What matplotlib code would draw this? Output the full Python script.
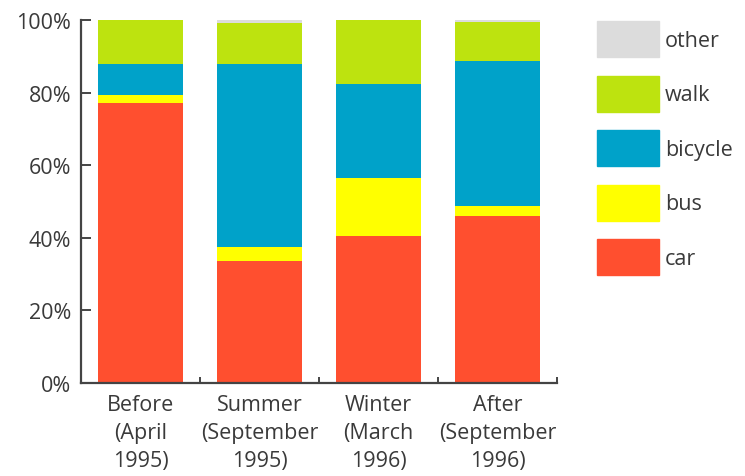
import numpy as np
import matplotlib
matplotlib.use('Agg')
import matplotlib.pyplot as plt
import matplotlib.patches as mpatches

plt.rcParams['font.family'] = ['Open Sans', 'DejaVu Sans']

# data (percent of trips)
periods = ['Before\n(April\n1995)', 'Summer\n(September\n1995)',
           'Winter\n(March\n1996)', 'After\n(September\n1996)']
modes = ['car', 'bus', 'bicycle', 'walk', 'other']
car = [77.0, 33.5, 40.4, 46.1]
bus = [2.3, 4.0, 16.1, 2.6]
bicycle = [8.5, 50.5, 25.9, 40.0]
walk = [12.2, 11.2, 17.6, 10.8]
other = [0.0, 0.8, 0.0, 0.5]
colors = ['#ff4f2f', '#ffff00', '#00a2c9', '#bde30f', '#dcdcdc']

text_col = '#3a3a3a'
axis_col = '#444444'
fs = 15.5

fig = plt.figure(figsize=(7.45, 4.77), dpi=100)
ax = fig.add_axes([0.1087, 0.195, 0.639, 0.761])

x = np.arange(len(periods))
bottom = np.zeros(len(periods))
for vals, col in zip([car, bus, bicycle, walk, other], colors):
    vals = np.array(vals)
    ax.bar(x, vals, width=0.72, bottom=bottom, color=col, linewidth=0)
    bottom += vals

ax.set_xlim(-0.5, 3.5)
ax.set_ylim(0, 100)
ax.set_yticks([0, 20, 40, 60, 80, 100])
ax.set_yticklabels(['0%', '20%', '40%', '60%', '80%', '100%'])
ax.set_xticks(x)
ax.set_xticklabels(periods, linespacing=1.45)
ax.set_xticks([0.5, 1.5, 2.5, 3.5], minor=True)

for s in ['top', 'right']:
    ax.spines[s].set_visible(False)
for s in ['left', 'bottom']:
    ax.spines[s].set_color(axis_col)
    ax.spines[s].set_linewidth(1.6)

ax.tick_params(axis='y', direction='in', length=7, width=1.4, color=axis_col,
               labelsize=fs, labelcolor=text_col, pad=7)
ax.tick_params(axis='x', which='major', length=0, labelsize=fs,
               labelcolor=text_col, pad=8)
ax.tick_params(axis='x', which='minor', direction='in', length=4, width=1.4,
               color=axis_col)

handles = [mpatches.Patch(facecolor=c, edgecolor=c, label=m)
           for m, c in zip(modes, colors)]
fig.legend(handles=handles[::-1], loc='upper left',
           bbox_to_anchor=(597 / 745, 1 - 22 / 477), frameon=False,
           fontsize=fs, labelcolor=text_col, handlelength=2.9,
           handleheight=2.2, labelspacing=0.86, handletextpad=0.25,
           borderpad=0, borderaxespad=0)

fig.savefig('out.png', dpi=100)
